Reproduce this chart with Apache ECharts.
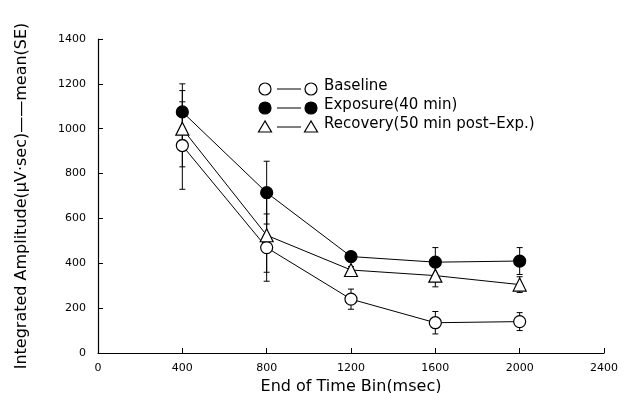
<!DOCTYPE html>
<html>
<head>
<meta charset="utf-8">
<script src="https://cdn.jsdelivr.net/npm/echarts@6/dist/echarts.min.js"></script>
<style>
  html, body { margin: 0; padding: 0; background: #fff; }
  #chart { width: 628px; height: 393px; }
</style>
</head>
<body>
<div id="chart"></div>
<script>
// time bins (msec)
var timeBins = [400, 800, 1200, 1600, 2000];
// mean values
var baseline = [925, 470, 240, 135, 140];
var exposure = [1075, 715, 430, 405, 410];
var recovery = [1000, 525, 370, 345, 305];
// standard errors
var baselineSE = [195, 150, 45, 50, 40];
var exposureSE = [125, 140, 20, 65, 60];
var recoverySE = [170, 165, 15, 50, 35];

var xTicks = [0, 400, 800, 1200, 1600, 2000, 2400];
var yTicks = [0, 200, 400, 600, 800, 1000, 1200, 1400];

var font = 'DejaVu Sans';

function pairs(vals) {
  return timeBins.map(function (t, i) { return [t, vals[i]]; });
}
function errData(vals, se) {
  return timeBins.map(function (t, i) { return [t, vals[i] - se[i], vals[i] + se[i]]; });
}

function errBars(vals, se) {
  return {
    type: 'custom',
    z: 1,
    silent: true,
    data: errData(vals, se),
    renderItem: function (params, api) {
      var lo = api.coord([api.value(0), api.value(1)]);
      var hi = api.coord([api.value(0), api.value(2)]);
      var w = 3;
      var st = { stroke: '#000', lineWidth: 1 };
      return {
        type: 'group',
        children: [
          { type: 'line', shape: { x1: lo[0], y1: lo[1], x2: hi[0], y2: hi[1] }, style: st },
          { type: 'line', shape: { x1: hi[0] - w, y1: hi[1], x2: hi[0] + w, y2: hi[1] }, style: st },
          { type: 'line', shape: { x1: lo[0] - w, y1: lo[1], x2: lo[0] + w, y2: lo[1] }, style: st }
        ]
      };
    }
  };
}

function lineSeries(name, vals, symbol, fill) {
  return {
    name: name,
    type: 'line',
    z: 3,
    data: pairs(vals),
    symbol: symbol,
    symbolSize: symbol === 'triangle' ? 13 : 12,
    lineStyle: { color: '#000', width: 1 },
    itemStyle: { color: fill, borderColor: '#000', borderWidth: 1.2 },
    emphasis: { disabled: true }
  };
}

// legend drawn as O—O style rows
var legendRows = [
  { y: 89, label: 'Baseline', kind: 'circle', fill: '#fff' },
  { y: 108, label: 'Exposure(40 min)', kind: 'circle', fill: '#000' },
  { y: 127, label: 'Recovery(50 min post\u2013Exp.)', kind: 'triangle', fill: '#fff' }
];
var graphics = [];
legendRows.forEach(function (r) {
  [265, 311].forEach(function (cx) {
    if (r.kind === 'circle') {
      graphics.push({ type: 'circle', shape: { cx: cx, cy: r.y, r: 6 },
        style: { fill: r.fill, stroke: '#000', lineWidth: 1.2 } });
    } else {
      graphics.push({ type: 'polygon', shape: { points: [[cx, r.y - 6], [cx - 6.5, r.y + 5], [cx + 6.5, r.y + 5]] },
        style: { fill: '#fff', stroke: '#000', lineWidth: 1.2 } });
    }
  });
  graphics.push({ type: 'line', shape: { x1: 277, y1: r.y, x2: 301, y2: r.y },
    style: { stroke: '#000', lineWidth: 1 } });
  graphics.push({ type: 'text', left: 324, top: r.y - 10,
    style: { text: r.label, fill: '#000', font: '15px ' + font } });
});

var chart = echarts.init(document.getElementById('chart'));
chart.setOption({
  animation: false,
  backgroundColor: '#fff',
  grid: { left: 98, right: 24, top: 39, bottom: 40, outerBoundsMode: 'none', containLabel: false },
  xAxis: {
    type: 'value',
    min: 0, max: 2400, interval: 400,
    name: 'End of Time Bin(msec)',
    nameLocation: 'middle',
    nameGap: 22,
    nameTextStyle: { fontFamily: font, fontSize: 16, color: '#000' },
    axisLine: { lineStyle: { color: '#000', width: 1.2 } },
    axisTick: { inside: true, length: 5, lineStyle: { color: '#000' } },
    axisLabel: { fontFamily: font, fontSize: 11, color: '#000', margin: 10,
      formatter: function (v) { return xTicks.indexOf(v) >= 0 ? String(v) : ''; } },
    splitLine: { show: false }
  },
  yAxis: {
    type: 'value',
    min: 0, max: 1400, interval: 200,
    name: 'Integrated Amplitude(\u03bcV\u00b7sec)\u2014\u2014mean(SE)',
    nameLocation: 'middle',
    nameGap: 68,
    nameTextStyle: { fontFamily: font, fontSize: 16, color: '#000' },
    axisLine: { show: true, lineStyle: { color: '#000', width: 1.2 } },
    axisTick: { show: true, inside: true, length: 5, lineStyle: { color: '#000' } },
    axisLabel: { fontFamily: font, fontSize: 11, color: '#000', margin: 12,
      formatter: function (v) { return yTicks.indexOf(v) >= 0 ? String(v) : ''; } },
    splitLine: { show: false }
  },
  series: [
    errBars(baseline, baselineSE),
    errBars(exposure, exposureSE),
    errBars(recovery, recoverySE),
    lineSeries('Baseline', baseline, 'circle', '#fff'),
    lineSeries('Exposure(40 min)', exposure, 'circle', '#000'),
    lineSeries('Recovery(50 min post-Exp.)', recovery, 'triangle', '#fff')
  ],
  graphic: graphics
});
</script>
</body>
</html>
